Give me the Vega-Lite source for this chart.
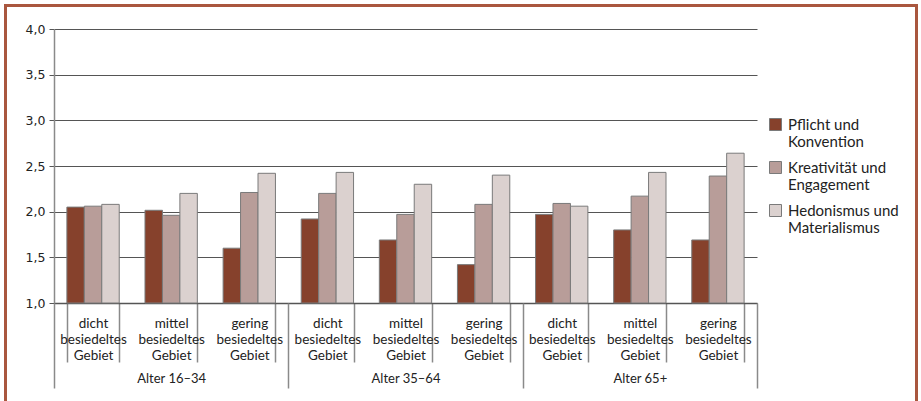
{
  "$schema": "https://vega.github.io/schema/vega-lite/v6.json",
  "width": 703,
  "height": 274,
  "autosize": {"type": "none"},
  "padding": {"left": 54, "top": 29, "right": 164, "bottom": 98},
  "background": "white",
  "data": {
    "values": [
      {"age": "Alter 16–34", "dens": "dicht besiedeltes Gebiet", "series": "Pflicht und Konvention", "value": 2.05},
      {"age": "Alter 16–34", "dens": "dicht besiedeltes Gebiet", "series": "Kreativität und Engagement", "value": 2.06},
      {"age": "Alter 16–34", "dens": "dicht besiedeltes Gebiet", "series": "Hedonismus und Materialismus", "value": 2.08},
      {"age": "Alter 16–34", "dens": "mittel besiedeltes Gebiet", "series": "Pflicht und Konvention", "value": 2.015},
      {"age": "Alter 16–34", "dens": "mittel besiedeltes Gebiet", "series": "Kreativität und Engagement", "value": 1.96},
      {"age": "Alter 16–34", "dens": "mittel besiedeltes Gebiet", "series": "Hedonismus und Materialismus", "value": 2.2},
      {"age": "Alter 16–34", "dens": "gering besiedeltes Gebiet", "series": "Pflicht und Konvention", "value": 1.6},
      {"age": "Alter 16–34", "dens": "gering besiedeltes Gebiet", "series": "Kreativität und Engagement", "value": 2.21},
      {"age": "Alter 16–34", "dens": "gering besiedeltes Gebiet", "series": "Hedonismus und Materialismus", "value": 2.42},
      {"age": "Alter 35–64", "dens": "dicht besiedeltes Gebiet", "series": "Pflicht und Konvention", "value": 1.92},
      {"age": "Alter 35–64", "dens": "dicht besiedeltes Gebiet", "series": "Kreativität und Engagement", "value": 2.2},
      {"age": "Alter 35–64", "dens": "dicht besiedeltes Gebiet", "series": "Hedonismus und Materialismus", "value": 2.43},
      {"age": "Alter 35–64", "dens": "mittel besiedeltes Gebiet", "series": "Pflicht und Konvention", "value": 1.69},
      {"age": "Alter 35–64", "dens": "mittel besiedeltes Gebiet", "series": "Kreativität und Engagement", "value": 1.97},
      {"age": "Alter 35–64", "dens": "mittel besiedeltes Gebiet", "series": "Hedonismus und Materialismus", "value": 2.3},
      {"age": "Alter 35–64", "dens": "gering besiedeltes Gebiet", "series": "Pflicht und Konvention", "value": 1.42},
      {"age": "Alter 35–64", "dens": "gering besiedeltes Gebiet", "series": "Kreativität und Engagement", "value": 2.08},
      {"age": "Alter 35–64", "dens": "gering besiedeltes Gebiet", "series": "Hedonismus und Materialismus", "value": 2.4},
      {"age": "Alter 65+", "dens": "dicht besiedeltes Gebiet", "series": "Pflicht und Konvention", "value": 1.97},
      {"age": "Alter 65+", "dens": "dicht besiedeltes Gebiet", "series": "Kreativität und Engagement", "value": 2.09},
      {"age": "Alter 65+", "dens": "dicht besiedeltes Gebiet", "series": "Hedonismus und Materialismus", "value": 2.06},
      {"age": "Alter 65+", "dens": "mittel besiedeltes Gebiet", "series": "Pflicht und Konvention", "value": 1.8},
      {"age": "Alter 65+", "dens": "mittel besiedeltes Gebiet", "series": "Kreativität und Engagement", "value": 2.17},
      {"age": "Alter 65+", "dens": "mittel besiedeltes Gebiet", "series": "Hedonismus und Materialismus", "value": 2.43},
      {"age": "Alter 65+", "dens": "gering besiedeltes Gebiet", "series": "Pflicht und Konvention", "value": 1.69},
      {"age": "Alter 65+", "dens": "gering besiedeltes Gebiet", "series": "Kreativität und Engagement", "value": 2.39},
      {"age": "Alter 65+", "dens": "gering besiedeltes Gebiet", "series": "Hedonismus und Materialismus", "value": 2.64}
    ]
  },
  "transform": [{"calculate": "datum.age + '|' + datum.dens", "as": "cat"}],
  "layer": [
    {
      "mark": {"type": "bar", "stroke": "#7a7a7a", "strokeWidth": 1},
      "encoding": {
        "x": {
          "field": "cat", "type": "nominal", "sort": null,
          "scale": {"paddingInner": 0.33, "paddingOuter": 0.165},
          "axis": {
            "title": null,
            "labelExpr": "indexof(datum.label,'|') >= 0 ? split(split(datum.label,'|')[1],' ') : ''",
            "labelAngle": 0,
            "labelFont": "Lato",
            "labelFontSize": 13.5,
            "labelLineHeight": 16,
            "labelColor": "#222",
            "labelBaseline": "top",
            "labelPadding": -46,
            "tickBand": "extent",
            "tickSize": 59,
            "tickColor": "#8a8a8a",
            "tickWidth": 1.5,
            "domainColor": "#555",
            "domainWidth": 1.5,
            "orient": "bottom"
          }
        },
        "xOffset": {"field": "series", "type": "nominal", "sort": null, "scale": {"paddingInner": 0, "paddingOuter": 0}},
        "y": {
          "field": "value", "type": "quantitative",
          "scale": {"domain": [1, 4], "nice": false, "zero": false},
          "axis": {
            "title": null,
            "values": [1, 1.5, 2, 2.5, 3, 3.5, 4],
            "labelExpr": "replace(format(datum.value,'.1f'),'.',',')",
            "labelFont": "DejaVu Sans",
            "labelFontSize": 12.5,
            "labelColor": "#222",
            "labelPadding": 4,
            "tickSize": 5,
            "tickColor": "#555",
            "domainColor": "#8a8a8a",
            "domainWidth": 1.5,
            "grid": true,
            "gridColor": "#555",
            "gridWidth": 1
          }
        },
        "y2": {"datum": 1},
        "color": {
          "field": "series", "type": "nominal", "sort": null,
          "scale": {
            "domain": ["Pflicht und Konvention", "Kreativität und Engagement", "Hedonismus und Materialismus"],
            "range": ["#86412c", "#b89d99", "#dbd1cf"]
          },
          "legend": {
            "title": null,
            "orient": "none",
            "legendX": 714,
            "legendY": 88,
            "padding": 0,
            "symbolType": "square",
            "symbolSize": 144,
            "symbolStrokeColor": "#7a7a7a",
            "symbolStrokeWidth": 1,
            "labelFont": "Lato",
            "labelFontSize": 15,
            "labelLineHeight": 17,
            "labelColor": "#222",
            "labelOffset": 5,
            "rowPadding": 9,
            "labelExpr": "[split(datum.label,' und ')[0] + ' und', split(datum.label,' und ')[1]]"
          }
        }
      }
    },
    {
      "mark": {"type": "bar", "opacity": 0},
      "encoding": {
        "x": {
          "field": "age", "type": "nominal", "sort": null,
          "scale": {"paddingInner": 0, "paddingOuter": 0},
          "axis": {
            "title": null,
            "orient": "bottom",
            "labelAngle": 0,
            "labelFont": "Lato",
            "labelFontSize": 13,
            "labelColor": "#222",
            "labelBaseline": "top",
            "labelPadding": -16,
            "tickBand": "extent",
            "tickSize": 85,
            "tickColor": "#8a8a8a",
            "tickWidth": 1.5,
            "domain": false
          }
        },
        "y": {"field": "value", "type": "quantitative", "scale": {"domain": [1, 4], "nice": false, "zero": false}},
        "y2": {"datum": 1}
      }
    },
    {
      "mark": {"type": "rect", "fillOpacity": 0, "stroke": "#a9573f", "strokeWidth": 2},
      "encoding": {
        "x": {"datum": -0.621, "type": "quantitative", "scale": {"domain": [0, 9], "nice": false, "zero": false}, "axis": null},
        "x2": {"datum": 11.04},
        "y": {"datum": 4.257, "type": "quantitative", "scale": {"domain": [1, 4], "nice": false, "zero": false}},
        "y2": {"datum": -0.5}
      }
    }
  ],
  "resolve": {"scale": {"x": "independent"}, "axis": {"x": "independent"}},
  "config": {"view": {"stroke": null}}
}
